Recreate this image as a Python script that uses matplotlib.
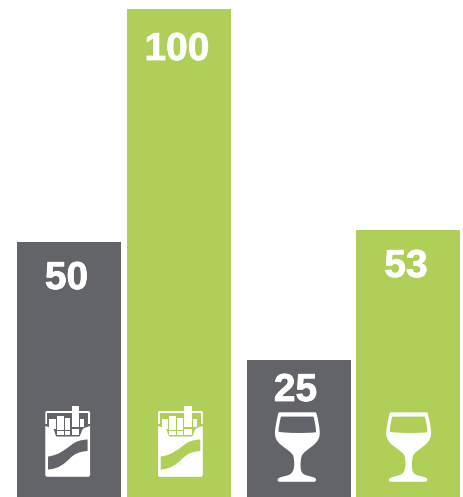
import matplotlib.pyplot as plt
import matplotlib.patheffects as pe
from matplotlib.patches import PathPatch
from matplotlib.path import Path

WIDTH = 463
HEIGHT = 497

GREY = "#636469"
GREEN = "#B0CF58"

# bar heights are not to scale with the printed numbers, so both are kept
labels = ["50", "100", "25", "53"]
bar_heights = [255, 488, 137, 267]
bar_lefts = [17, 127, 247, 356]
bar_colors = [GREY, GREEN, GREY, GREEN]
icons = ["pack", "pack", "glass", "glass"]
icon_x = [45.3, 158, 275, 386.3]
label_y = [279, 50, 391, 267]
label_x = [66.5, 177, 295.5, 406]

plt.rcParams["font.family"] = ["Liberation Sans", "DejaVu Sans"]


def to_path(cmds):
    """Small path builder, coordinates are in picture pixels (y down)."""
    verts, codes = [], []
    for c in cmds:
        if c[0] == "M":
            verts.append(c[1])
            codes.append(Path.MOVETO)
        elif c[0] == "L":
            verts.append(c[1])
            codes.append(Path.LINETO)
        elif c[0] == "C":
            verts.extend(c[1:])
            codes.extend([Path.CURVE4] * 3)
        elif c[0] == "Z":
            verts.append(verts[0])
            codes.append(Path.CLOSEPOLY)
    return verts, codes


def add_shape(ax, cmds, ox, oy, color):
    verts, codes = to_path(cmds)
    verts = [(ox + x, HEIGHT - (oy + y)) for x, y in verts]
    ax.add_patch(PathPatch(Path(verts, codes), facecolor=color, edgecolor="none", zorder=3))


def draw_pack(ax, ox, oy, bg):
    # frame around the open lid, it stops just above the flap line
    add_shape(ax, [("M", (1.5, 0)), ("L", (43, 0)), ("C", (44, 0), (44.8, 0.8), (44.8, 2)),
                   ("L", (44.8, 13)), ("L", (0, 13)), ("L", (0, 2)),
                   ("C", (0, 0.8), (0.6, 0), (1.5, 0)), ("Z",)], ox, oy, "white")
    add_shape(ax, [("M", (2, 2)), ("L", (42.8, 2)), ("L", (42.8, 13)), ("L", (2, 13)), ("Z",)], ox, oy, bg)
    # cigarettes
    for x0, y0, x1, y1 in [(3.7, 7.5, 10.3, 18), (11.3, 5, 18.3, 19), (19.3, 6.5, 25, 19),
                           (26.3, -5.5, 33.5, 16), (34.5, 7.5, 38.5, 16),
                           (11.3, 19.8, 18.3, 24), (19.3, 19.8, 25, 24), (26.3, 17.5, 33.5, 24)]:
        add_shape(ax, [("M", (x0, y0)), ("L", (x1, y0)), ("L", (x1, y1)), ("L", (x0, y1)), ("Z",)], ox, oy, "white")
    # body with the cut out flap
    add_shape(ax, [("M", (0, 15)), ("C", (3, 16), (6, 16.5), (8, 18)), ("C", (9.5, 20), (9.5, 23), (11, 25.5)),
                   ("L", (34, 25.5)), ("C", (36, 23), (36, 20), (37.5, 18)), ("C", (39, 16.5), (42, 16), (44.8, 15)),
                   ("L", (44.8, 63.5)), ("C", (44.8, 65), (44, 65.8), (43, 65.8)), ("L", (2, 65.8)),
                   ("C", (0.8, 65.8), (0, 65), (0, 63.5)), ("Z",)], ox, oy, "white")
    # the wave across the front
    add_shape(ax, [("M", (2.7, 45.5)), ("C", (14, 44), (19, 39), (26, 34)), ("C", (31, 30), (35, 29), (42.3, 28.5)),
                   ("L", (42.3, 40)), ("C", (34, 40.5), (29, 43), (25, 47)), ("C", (19, 53), (13, 58), (2.7, 58.5)),
                   ("Z",)], ox, oy, bg)


def draw_glass(ax, ox, oy, bg):
    add_shape(ax, [("M", (4.5, 0)), ("L", (40, 0)), ("C", (41, 0), (41.3, 0.7), (41.7, 2)),
                   ("C", (43.5, 9), (45, 17), (44.7, 22)), ("C", (44, 33), (31, 36), (27, 43)),
                   ("C", (25, 48), (25, 58), (27, 60)), ("C", (29, 64), (37, 63.5), (40.5, 66)),
                   ("C", (41.5, 67.5), (41, 69.5), (39, 69.5)), ("L", (5, 69.5)),
                   ("C", (2.5, 69.5), (2, 67.5), (3.5, 66)), ("C", (7, 63.5), (15, 64), (17, 60)),
                   ("C", (19.5, 58), (20, 48), (18, 43)), ("C", (14, 36), (0.5, 33), (0, 22)),
                   ("C", (-0.3, 17), (1.5, 9), (3, 2)), ("C", (3.3, 0.7), (3.8, 0), (4.5, 0)), ("Z",)],
              ox, oy, "white")
    # the empty part of the bowl
    add_shape(ax, [("M", (6, 4.3)), ("L", (38.5, 4.3)), ("C", (39.8, 9), (41, 15), (41, 20)),
                   ("C", (30, 21), (14, 21), (3.5, 19.5)), ("C", (3.5, 15), (4.7, 9), (6, 4.3)), ("Z",)],
              ox, oy, bg)


fig = plt.figure(figsize=(WIDTH / 100, HEIGHT / 100), dpi=100)
ax = fig.add_axes([0, 0, 1, 1])
ax.set_xlim(0, WIDTH)
ax.set_ylim(0, HEIGHT)
ax.axis("off")

ax.bar(bar_lefts, bar_heights, width=104, align="edge", color=bar_colors, linewidth=0)

for x, y, txt in zip(label_x, label_y, labels):
    ax.text(x, HEIGHT - y, txt, color="white", fontsize=28, fontweight="bold",
            ha="center", va="center", zorder=4,
            path_effects=[pe.withStroke(linewidth=0.6, foreground="white")])

for ox, kind, col in zip(icon_x, icons, bar_colors):
    if kind == "pack":
        draw_pack(ax, ox, 411, col)
    else:
        draw_glass(ax, ox, 412.3, col)

fig.savefig("out.png", dpi=100, facecolor="white")
